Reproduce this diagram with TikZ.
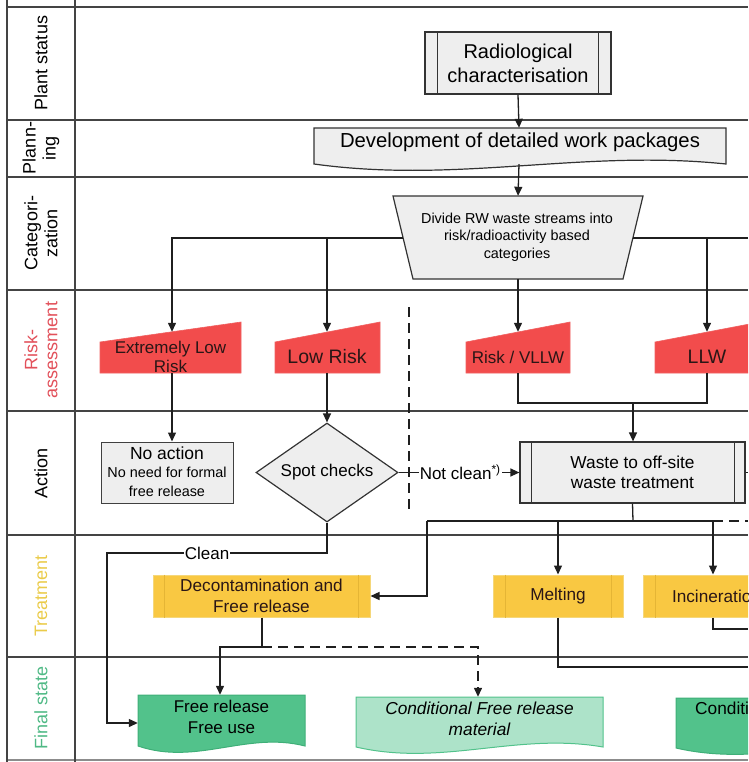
\documentclass[tikz,border=0pt]{standalone}
\usepackage{fontspec}
\setmainfont{Liberation Sans}
\usetikzlibrary{arrows.meta,shapes.geometric,calc}
\definecolor{grayfill}{HTML}{EEEEEE}
\definecolor{lanegray}{HTML}{444444}
\definecolor{redfill}{HTML}{F24C4C}
\definecolor{redline}{HTML}{F06060}
\definecolor{redtext}{HTML}{E2505A}
\definecolor{darktext}{HTML}{2A1616}
\definecolor{yelfill}{HTML}{F9C842}
\definecolor{yelline}{HTML}{F5D77A}
\definecolor{yelinnerc}{HTML}{E5B535}
\definecolor{yeltext}{HTML}{EACB4A}
\definecolor{greenfill}{HTML}{52C28B}
\definecolor{greenline}{HTML}{3FAF78}
\definecolor{lightgreen}{HTML}{ADE3C9}
\definecolor{greentext}{HTML}{4FB985}
\newcommand\fs[2]{\fontsize{#1}{#2}\selectfont}
\newcommand\docshape[5]{\path[#1] (#2,#3) -- (#4,#3) -- (#4,#5) .. controls ({#4-0.35*(#4-#2)},{#5-15}) and ({#2+0.35*(#4-#2)},{#5+20}) .. (#2,#5) -- cycle;}
\newcommand\maninshape[3]{\path[#1] (#2,342) -- (#3,322) -- (#3,373) -- (#2,373) -- cycle;}
\begin{document}
\begin{tikzpicture}[x=1pt,y=-1pt,
  lane/.style={draw=lanegray, line width=1.1pt},
  conn/.style={draw=black!88, line width=1.3pt},
  arr/.style={conn, -{Triangle[length=9pt,width=8pt]}},
  dashconn/.style={conn, dash pattern=on 10pt off 6pt},
  lbl/.style={rotate=90, align=center, font=\fs{18}{20}},
  proc/.style={draw=black!80, line width=1.2pt, fill=grayfill, align=center, inner sep=0},
  procline/.style={draw=black!80, line width=1.1pt},
  box/.style={draw=none, inner sep=0},
  txt/.style={align=center, inner sep=0},
  redshape/.style={fill=redfill, draw=redline, line width=0.6pt},
  yel/.style={fill=yelfill, draw=yelline, line width=1pt, align=center, inner sep=0, text=darktext},
  yelinner/.style={draw=yelinnerc, line width=0.7pt},
  docgray/.style={fill=grayfill, draw=black!80, line width=1.2pt},
  docgreen/.style={fill=greenfill, draw=greenline, line width=1pt},
  doclight/.style={fill=lightgreen, draw=greenfill, line width=1pt},
  tag/.style={fill=white, inner sep=1pt, font=\fs{17}{19}}
]
\useasboundingbox (0,0) rectangle (748,762);
\clip (0,0) rectangle (748,762);
% ---------- lanes ----------
\foreach \yy in {7,120,177,290,411,535,657} {\draw[lane] (7,\yy) -- (748,\yy);}
\draw[lane, draw=black!45] (7,760) -- (748,760);
\draw[lane] (7,0) -- (7,762);
\draw[lane] (75,0) -- (75,762);
\node[lbl] (l1) at (41,63) {Plant status};
\node[lbl] (l2) at (41,148) {Plann-\\ing};
\node[lbl] (l3) at (41,233) {Categori-\\zation};
\node[lbl, text=redtext] (l4) at (41,350) {Risk-\\assessment};
\node[lbl] (l5) at (41,473) {Action};
\node[lbl, text=yeltext] (l6) at (41,596) {Treatment};
\node[lbl, text=greentext] (l7) at (41,708) {Final state};
% ---------- plant status ----------
\node[proc, minimum width=186, minimum height=62, font=\fs{20}{24}] (rc) at (518,63) {Radiological\\characterisation};
\draw[procline] ([xshift=13pt]rc.north west) -- ([xshift=13pt]rc.south west);
\draw[procline] ([xshift=-13pt]rc.north east) -- ([xshift=-13pt]rc.south east);
% ---------- planning ----------
\docshape{docgray}{314}{128}{726}{164}
\node[box, minimum width=412, minimum height=36] (dev) at (519,146) {};
\node[txt, font=\fs{20.3}{22}] (devt) at (520,142) {Development of detailed work packages};
% ---------- categorization ----------
\path[docgray] (393,196) -- (643,196) -- (623,279) -- (413,279) -- cycle;
\node[box, minimum width=250, minimum height=83] (cat) at (518,237.5) {};
\node[txt, font=\fs{14.4}{17.5}] (catt) at (517,237) {Divide RW waste streams into\\risk/radioactivity based\\categories};
\coordinate (catL) at (403,238);
\coordinate (catR) at (633,238);
\coordinate (jlr) at (327,238);
\coordinate (edge1) at (748,238);
\draw[arr] (rc.south) -- (dev.north);
\draw[arr] (dev.south) -- (cat.north);
% ---------- risk assessment ----------
\maninshape{redshape}{100}{241}
\maninshape{redshape}{275}{380}
\maninshape{redshape}{466}{570}
\maninshape{redshape}{655}{760}
\node[box, minimum width=20, minimum height=41] (elr) at (172,352.5) {};
\node[box, minimum width=20, minimum height=41] (lr) at (327,352.5) {};
\node[box, minimum width=20, minimum height=41] (vllw) at (518,352.5) {};
\node[box, minimum width=20, minimum height=41] (llw) at (707,352.5) {};
\node[txt, font=\fs{17}{19}, text=darktext] (elrt) at (170.5,357) {Extremely Low\\Risk};
\node[txt, font=\fs{19.5}{20}, text=darktext] (lrt) at (327,357) {Low Risk};
\node[txt, font=\fs{17}{20}, text=darktext] (vllwt) at (518,357) {Risk / VLLW};
\node[txt, font=\fs{19.5}{20}, text=darktext] (llwt) at (707,357) {LLW};
\draw[arr] (catL) -| (elr.north);
\draw[arr] (jlr) -- (lr.north);
\draw[arr] (cat.south) -- (vllw.north);
\draw[arr] (catR) -| (llw.north);
\draw[conn] (llw.north |- catR) -- (edge1);
\draw[dashconn] (409,307) -- (409,510);
% ---------- action ----------
\node[proc, draw=black!75, line width=1pt, minimum width=132, minimum height=61] (na) at (167,472.5) {};
\node[txt, font=\fs{17.5}{19}] (nat1) at (167,453) {No action};
\node[txt, font=\fs{14.4}{19}] (nat2) at (167,481.5) {No need for formal\\free release};
\node[diamond, aspect=1.434, draw=black!80, line width=1.2pt, fill=grayfill, inner sep=0, minimum width=142, minimum height=99, font=\fs{17}{20}] (sc) at (327,472.5) {Spot checks};
\node[proc, minimum width=225, minimum height=61, font=\fs{17.3}{20}] (wt) at (632.5,472.5) {Waste to off-site\\waste treatment};
\draw[procline] ([xshift=12pt]wt.north west) -- ([xshift=12pt]wt.south west);
\draw[procline] ([xshift=-11pt]wt.north east) -- ([xshift=-11pt]wt.south east);
\coordinate (edge2) at (748,472.5);
\draw[conn] (wt.east) -- (edge2);
\draw[arr] (elr.south) -- (elr.south |- na.north);
\draw[arr] (lr.south) -- (sc.north);
\draw[arr] (sc.east) -- node[tag, pos=0.51] (nc) {Not clean\textsuperscript{*)}} (wt.west);
\coordinate (jv) at (518,403);
\coordinate (jl2) at (707,403);
\coordinate (jm) at (633,403);
\draw[conn] (vllw.south) -- (jv) -- (jl2) -- (llw.south);
\draw[arr] (jm) -- (jm |- wt.north);
% ---------- treatment ----------
\node[yel, minimum width=217, minimum height=42, font=\fs{17.2}{20.5}] (dec) at (261.5,596) {Decontamination and\\Free release};
\draw[yelinner] ([xshift=12pt]dec.north west) -- ([xshift=12pt]dec.south west);
\draw[yelinner] ([xshift=-12pt]dec.north east) -- ([xshift=-12pt]dec.south east);
\node[yel, minimum width=130, minimum height=42, font=\fs{17.2}{20}] (mel) at (558,596) {Melting};
\draw[yelinner] ([xshift=13pt]mel.north west) -- ([xshift=13pt]mel.south west);
\draw[yelinner] ([xshift=-12pt]mel.north east) -- ([xshift=-12pt]mel.south east);
\node[yel, minimum width=147, minimum height=42, font=\fs{17.2}{20}] (inc) at (716.5,596) {Incineration};
\draw[yelinner] ([xshift=13pt]inc.north west) -- ([xshift=13pt]inc.south west);
\coordinate (wb) at (633,521);
\coordinate (t1) at (427,521);
\coordinate (t2) at (558,521);
\coordinate (t3) at (713,521);
\coordinate (edge3) at (748,521);
\draw[conn] (wt.south) -- (wb);
\draw[conn] (t1) -- (t3);
\draw[dashconn] (t3) -- (edge3);
\draw[arr] (t1) |- (dec.east);
\draw[arr] (t2) -- (mel.north);
\draw[arr] (t3) -- (t3 |- inc.north);
\coordinate (cl1) at (327,553);
\coordinate (cl2) at (107,553);
% ---------- final state ----------
\docshape{docgreen}{138}{695}{305}{746}
\node[box, minimum width=167, minimum height=51] (fr) at (221.5,720.5) {};
\node[txt, font=\fs{17}{21}] (frt) at (221.5,716.5) {Free release\\Free use};
\docshape{doclight}{356}{697}{603}{747}
\node[box, minimum width=247, minimum height=50] (cfr) at (478,722) {};
\node[txt, font=\fs{17.3}{21}\itshape] (cfrt) at (479.5,718.5) {Conditional Free release\\material};
\docshape{docgreen}{676}{698}{923}{748}
\node[box, minimum width=247, minimum height=50] (cw) at (799.5,723) {};
\node[txt, font=\fs{17.3}{21}, anchor=west] (cwt) at (695,708) {Conditioned};
% connectors into treatment / final
\draw[arr] (sc.south) -- (cl1) -- node[tag, pos=0.545] (cln) {Clean} (cl2) |- (fr.west |- 0,723);
\coordinate (d1) at (262,647);
\coordinate (d2) at (220,647);
\coordinate (d3) at (478,647);
\draw[conn] (dec.south -| d1) -- (d1);
\draw[arr] (d1) -- (d2) -- (fr.north -| d2);
\draw[dashconn, -{Triangle[length=9pt,width=8pt]}] (d1) -- (d3) -- (cfr.north);
\coordinate (m1) at (558,667);
\coordinate (edge4) at (748,667);
\draw[conn] (mel.south) -- (m1) -- (edge4);
\coordinate (i1) at (713,629);
\coordinate (edge5) at (748,629);
\draw[conn] (inc.south -| i1) -- (i1) -- (edge5);
\end{tikzpicture}
\end{document}
